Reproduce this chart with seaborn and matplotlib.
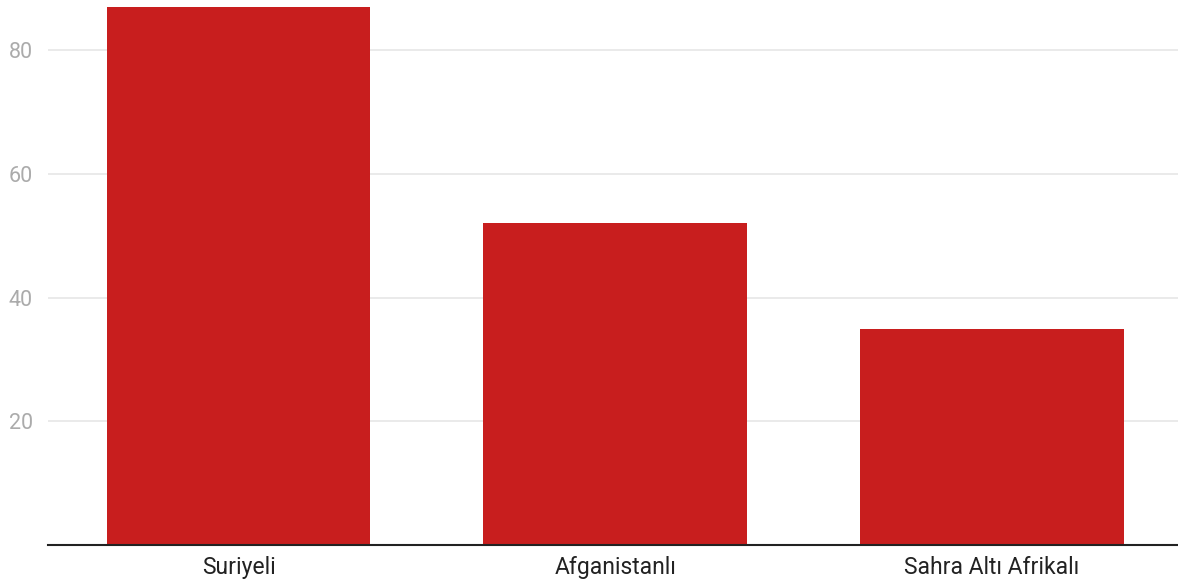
import matplotlib
matplotlib.use("Agg")
import matplotlib.pyplot as plt
import seaborn as sns
import pandas as pd

gruplar = ["Suriyeli", "Afganistanlı", "Sahra Altı Afrikalı"]
degerler = [87, 52, 35]
y_ticks = [20, 40, 60, 80]

df = pd.DataFrame({"Grup": gruplar, "Değer": degerler})

sns.set_style("white")
plt.rcParams["font.family"] = ["Roboto", "DejaVu Sans"]

fig = plt.figure(figsize=(11.78, 5.86), dpi=100)
ax = fig.add_axes([48 / 1178, 41 / 586, 1130 / 1178, 538 / 586])

sns.barplot(data=df, x="Grup", y="Değer", color="#C81E1E", saturation=1,
            width=0.7, linewidth=0, ax=ax, zorder=2)

ax.set_xlim(-0.506, 2.494)
ax.set_ylim(0, 87)
ax.set_yticks(y_ticks)
ax.yaxis.grid(True, color="#E6E6E6", linewidth=1.2, zorder=0)
ax.set_axisbelow(True)
ax.set_xlabel("")
ax.set_ylabel("")

for s in ["top", "right", "left"]:
    ax.spines[s].set_visible(False)
ax.spines["bottom"].set_color("#222222")
ax.spines["bottom"].set_linewidth(1.5)

ax.tick_params(axis="y", length=0, pad=11, labelsize=15.5, labelcolor="#ABABAB")
ax.tick_params(axis="x", length=0, pad=8, labelsize=16.5, labelcolor="#222222")

fig.savefig("out.png", dpi=100)
